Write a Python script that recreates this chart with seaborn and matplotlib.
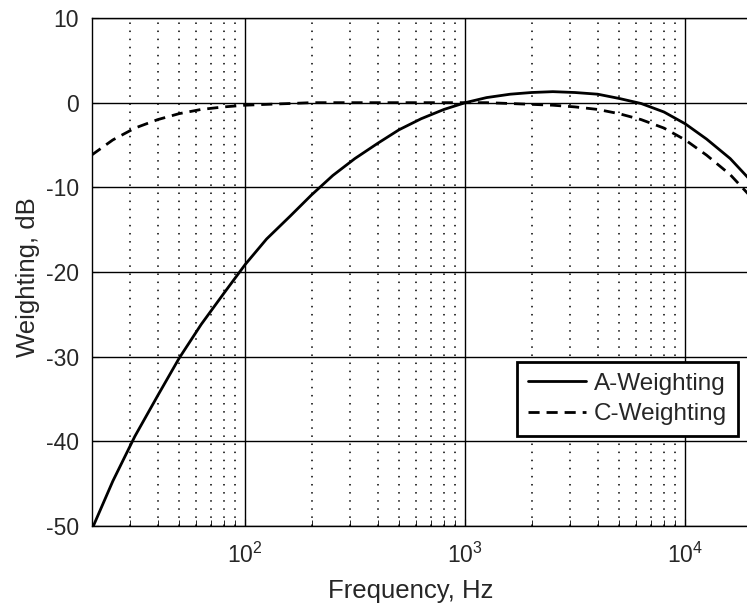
import matplotlib
matplotlib.use("Agg")
import matplotlib.pyplot as plt
import matplotlib.ticker as mticker
import pandas as pd
import seaborn as sns

# 1/3-octave band centre frequencies, Hz
freq = [20, 25, 31.5, 40, 50, 63, 80, 100, 125, 160, 200, 250, 315, 400, 500,
        630, 800, 1000, 1250, 1600, 2000, 2500, 3150, 4000, 5000, 6300, 8000,
        10000, 12500, 16000, 20000]

# weighting values, dB
a_weight = [-50.5, -44.7, -39.4, -34.6, -30.2, -26.2, -22.5, -19.1, -16.1, -13.4,
            -10.9, -8.6, -6.6, -4.8, -3.2, -1.9, -0.8, 0.0, 0.6, 1.0, 1.2, 1.3,
            1.2, 1.0, 0.5, -0.1, -1.1, -2.5, -4.3, -6.6, -9.3]
c_weight = [-6.2, -4.4, -3.0, -2.0, -1.3, -0.8, -0.5, -0.3, -0.2, -0.1, 0.0, 0.0,
            0.0, 0.0, 0.0, 0.0, 0.0, 0.0, 0.0, -0.1, -0.2, -0.3, -0.5, -0.8, -1.3,
            -2.0, -3.0, -4.4, -6.2, -8.5, -11.2]

y_ticks = [-50, -40, -30, -20, -10, 0, 10]

df = pd.DataFrame({
    "freq": freq * 2,
    "dB": a_weight + c_weight,
    "curve": ["A-Weighting"] * len(freq) + ["C-Weighting"] * len(freq),
})

sns.set_style("white")
plt.rcParams["font.family"] = ["Liberation Sans", "DejaVu Sans"]
plt.rcParams["axes.unicode_minus"] = False

fig = plt.figure(figsize=(7.47, 6.08), dpi=100)
# axes runs a bit past the right edge of the figure, like the cropped original
ax = fig.add_axes([91.5 / 747, 82 / 608, 660 / 747, 508 / 608])

sns.lineplot(data=df, x="freq", y="dB", style="curve", color="black",
             linewidth=2, dashes={"A-Weighting": "", "C-Weighting": (4, 2.5)},
             ax=ax, legend=True, zorder=3)

ax.set_xscale("log")
ax.set_xlim(20, 20000)
ax.set_ylim(-50, 10)
ax.set_yticks(y_ticks)
ax.xaxis.set_major_locator(mticker.LogLocator(base=10))
ax.xaxis.set_minor_locator(mticker.LogLocator(base=10, subs=range(2, 10)))
ax.xaxis.set_minor_formatter(mticker.NullFormatter())

ax.grid(which="major", axis="both", color="black", linestyle="-", linewidth=1)
ax.grid(which="minor", axis="x", color="black", linestyle=(0, (1, 4.3)), linewidth=1.1)
ax.set_axisbelow(True)

ax.tick_params(which="both", direction="in", labelsize=16.5, color="black",
               bottom=True, left=True)
ax.tick_params(which="major", length=5)
ax.tick_params(axis="x", which="major", pad=12)
ax.tick_params(axis="y", which="major", pad=9)
ax.tick_params(which="minor", length=4)
for sp in ax.spines.values():
    sp.set_color("black")
    sp.set_linewidth(1)

# label positions (top of x label, right side of y label)
ax.set_xlabel("Frequency, Hz", fontsize=18.5)
ax.xaxis.set_label_coords((411 - 91.5) / 660, -(579 - 526) / 508)
ax.set_ylabel("Weighting, dB", fontsize=18.5)
ax.yaxis.set_label_coords(-(91.5 - 40) / 660, (526 - 277) / 508)

leg = ax.legend(loc="upper left", bbox_to_anchor=(517 / 747, 1 - 362 / 608),
                bbox_transform=fig.transFigure, fontsize=17.5, frameon=True,
                fancybox=False, handlelength=2.4, borderpad=0.45,
                borderaxespad=0, labelspacing=0.34, handletextpad=0.3)
leg.get_frame().set_edgecolor("black")
leg.get_frame().set_linewidth(2)
leg.get_frame().set_alpha(1)

fig.savefig("out.png", dpi=100)
